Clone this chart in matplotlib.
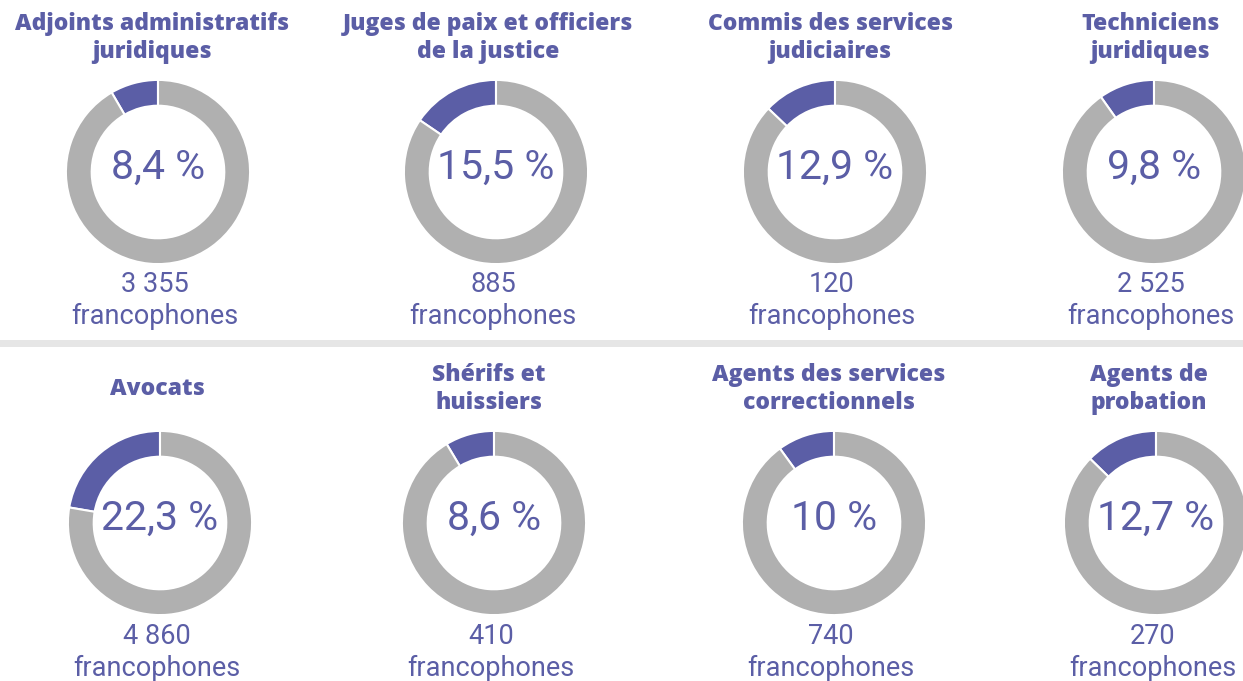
import matplotlib
matplotlib.use("Agg")
from matplotlib import pyplot as plt

# data
titles = [
    ["Adjoints administratifs", "juridiques"],
    ["Juges de paix et officiers", "de la justice"],
    ["Commis des services", "judiciaires"],
    ["Techniciens", "juridiques"],
    ["Avocats"],
    ["Shérifs et", "huissiers"],
    ["Agents des services", "correctionnels"],
    ["Agents de", "probation"],
]
pct = [8.4, 15.5, 12.9, 9.8, 22.3, 8.6, 10, 12.7]
pct_labels = ["8,4 %", "15,5 %", "12,9 %", "9,8 %", "22,3 %", "8,6 %", "10 %", "12,7 %"]
counts = ["3 355", "885", "120", "2 525", "4 860", "410", "740", "270"]

PURPLE = "#5b5ea6"
GRAY = "#b0b0b0"
W, H = 1243, 681

# layout in pixels
donut_x = [158, 496, 835, 1154, 160, 494, 834, 1156]
title_x = [152, 488, 830, 1150, 157, 489, 829, 1149]
row_cy = [172, 523]
title_y = [(24, 52), (375, 403)]
count_y = [(285, 316), (637, 668)]
R = 93

plt.rcParams['font.family'] = ['Roboto', 'DejaVu Sans']

fig = plt.figure(figsize=(W / 100, H / 100), dpi=100)
fig.patch.set_facecolor("white")

def fx(x):
    return x / W

def fy(y):
    return 1 - y / H

# separator band
fig.add_artist(plt.Rectangle((0, fy(347)), 1, 7 / H, transform=fig.transFigure,
                             color="#e6e6e6", lw=0))

title_kw = dict(ha="center", va="center", fontsize=16.5, fontweight=800,
                color=PURPLE, family=["Open Sans", "DejaVu Sans"])

for i in range(8):
    row = i // 4
    cx, cy = donut_x[i], row_cy[row]
    ax = fig.add_axes([fx(cx - R), fy(cy + R), 2 * R / W, 2 * R / H])
    ax.pie([pct[i], 100 - pct[i]], colors=[PURPLE, GRAY], startangle=90,
           counterclock=True, radius=1,
           wedgeprops=dict(width=0.28, edgecolor="white", linewidth=1.5))
    ax.set_xlim(-1.01, 1.01)
    ax.set_ylim(-1.01, 1.01)
    ax.set_aspect("equal")
    ax.axis("off")

    fig.text(fx(cx), fy(cy - 5), pct_labels[i], ha="center", va="center",
             fontsize=29.5, color=PURPLE)

    lines = titles[i]
    if len(lines) == 1:
        fig.text(fx(title_x[i]), fy(sum(title_y[row]) / 2), lines[0], **title_kw)
    else:
        for ln, ty in zip(lines, title_y[row]):
            fig.text(fx(title_x[i]), fy(ty), ln, **title_kw)

    c1, c2 = count_y[row]
    fig.text(fx(cx - 3), fy(c1), counts[i], ha="center", va="center",
             fontsize=19.5, color=PURPLE)
    fig.text(fx(cx - 3), fy(c2), "francophones", ha="center", va="center",
             fontsize=19.5, color=PURPLE)

plt.savefig("out.png", dpi=100)
